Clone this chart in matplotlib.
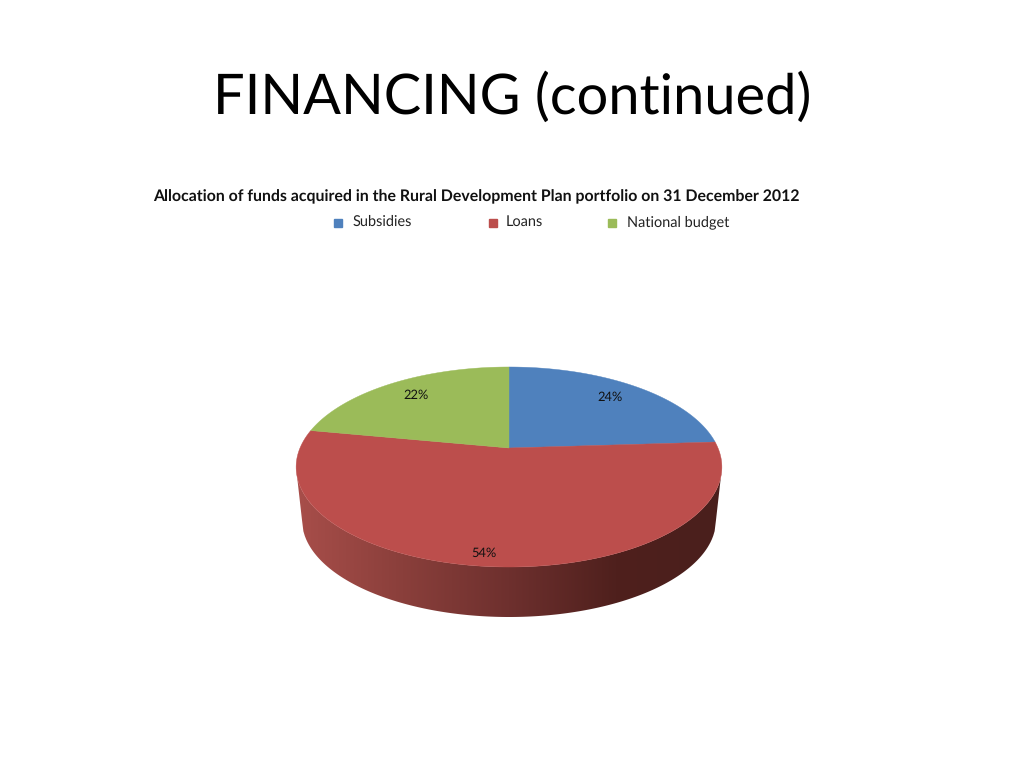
import numpy as np
import matplotlib
matplotlib.use('Agg')
import matplotlib.pyplot as plt
from matplotlib.colors import LinearSegmentedColormap
from matplotlib.patches import Polygon

categories = ['Subsidies', 'Loans', 'National budget']
shares = [24, 54, 22]
colores = ['#4f81bd', '#bc4e4c', '#9bbb59']

titulo = 'FINANCING (continued)'
subtitulo = 'Allocation of funds acquired in the Rural Development Plan portfolio on 31 December 2012'

plt.rcParams['font.family'] = ['Lato', 'DejaVu Sans']
plt.rcParams['text.hinting'] = 'no_hinting'

fig = plt.figure(figsize=(10.24, 7.68), dpi=100)
ax = fig.add_axes([0, 0, 1, 1])

# vista en perspectiva: el centro del circulo no cae en el centro de la elipse
CX, CY = 509, 448
R, B, K = 209, 96.4, 0.19


def proyectar(ang):
    u = np.sin(ang)
    v = np.cos(ang)
    w = 1 + K * v
    return CX + R * u / w, CY - B * v / w


# pared lateral con degradado, recortada al contorno
rampa = LinearSegmentedColormap.from_list('pared', ['#a84e4a', '#8a3f3b', '#6e302e', '#4f201d', '#4a1f1c'])
degradado = np.linspace(0, 1, 512).reshape(1, -1)
img = ax.imshow(degradado, cmap=rampa, extent=(296, 722, 620, 460), aspect='auto', interpolation='bilinear')
t = np.linspace(-1, 1, 300)
contorno = np.r_[
    np.c_[509 + 213 * t, 467 + 100 * np.sqrt(1 - t * t)],
    np.c_[509 + 207 * t[::-1], 520 + 97 * np.sqrt(1 - t[::-1] ** 2)],
]
recorte = Polygon(contorno, closed=True, transform=ax.transData, fc='none', ec='none')
ax.add_patch(recorte)
img.set_clip_path(recorte)

ax.set_xlim(0, 1024)
ax.set_ylim(768, 0)
ax.axis('off')

# caras superiores
inicio = 0.0
for share, color in zip(shares, colores):
    fin = inicio + share / sum(shares) * 2 * np.pi
    ang = np.linspace(inicio, fin, 200)
    xs, ys = proyectar(ang)
    ax.fill(np.r_[CX, xs], np.r_[CY, ys], color=color, linewidth=0.3, zorder=3)
    inicio = fin

# etiquetas de porcentaje
pos_etiquetas = [(610, 397), (484, 553), (416, 395)]
for share, (px, py) in zip(shares, pos_etiquetas):
    ax.text(px, py, f'{share}%', ha='center', va='center', fontsize=9.3, color='#111111', zorder=4)

ax.text(512, 98, titulo, ha='center', va='center', fontsize=40.3, color='black')
ax.text(476.5, 197, subtitulo, ha='center', va='center', fontsize=11.43, fontweight='bold', color='#111111')

# leyenda
pos_cuadro = [337.5, 492.5, 611.5]
pos_texto = [353, 506, 627]
for nombre, color, xm, xt in zip(categories, colores, pos_cuadro, pos_texto):
    ax.plot([xm], [222.5], marker='s', ms=5.6, color=color, ls='none')
    ax.text(xt, 226, nombre, ha='left', va='baseline', fontsize=10.45, color='#222222')

fig.savefig('out.png', dpi=100)
